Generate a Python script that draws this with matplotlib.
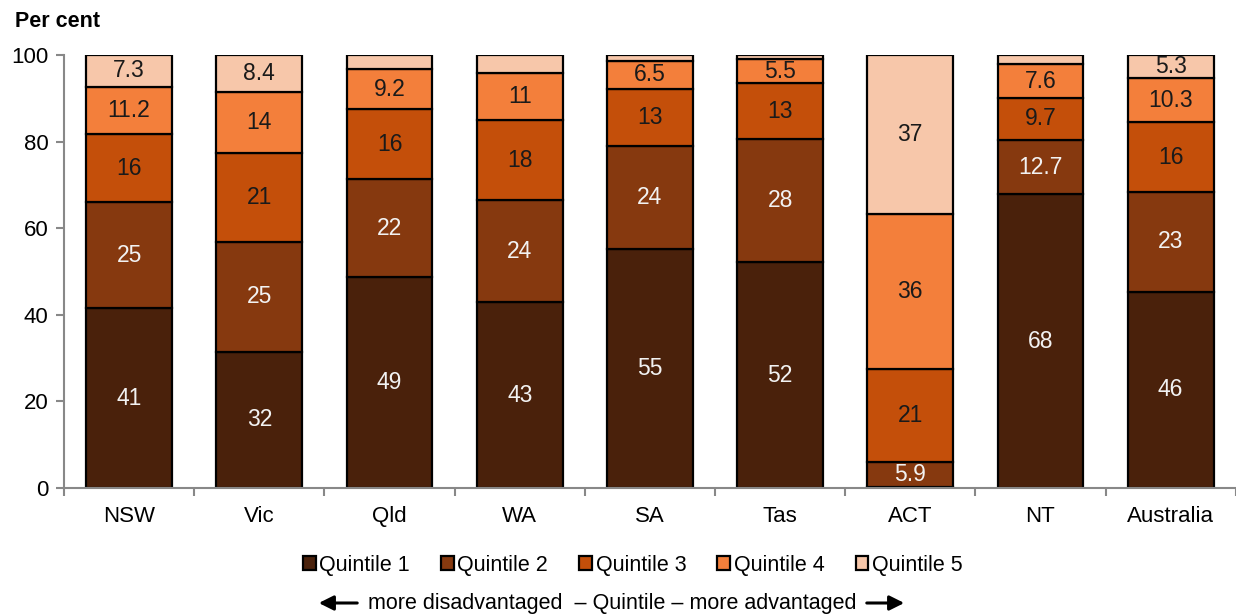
import matplotlib.pyplot as plt
import numpy as np

plt.rcParams['font.family'] = ['Liberation Sans', 'DejaVu Sans']

regions = ["NSW", "Vic", "Qld", "WA", "SA", "Tas", "ACT", "NT", "Australia"]

# segment heights (per cent)
q1 = [41.5, 31.5, 48.7, 42.9, 55.1, 52.1, 0.3, 67.8, 45.3]
q2 = [24.6, 25.4, 22.6, 23.6, 24.0, 28.5, 5.6, 12.6, 23.1]
q3 = [15.6, 20.5, 16.2, 18.5, 13.0, 12.9, 21.7, 9.7, 16.1]
q4 = [11.0, 14.1, 9.2, 10.8, 6.6, 5.5, 35.8, 7.8, 10.2]
q5 = [7.3, 8.5, 3.3, 4.2, 1.3, 1.0, 36.6, 2.1, 5.3]

# printed labels
lab1 = ["41", "32", "49", "43", "55", "52", "", "68", "46"]
lab2 = ["25", "25", "22", "24", "24", "28", "5.9", "12.7", "23"]
lab3 = ["16", "21", "16", "18", "13", "13", "21", "9.7", "16"]
lab4 = ["11.2", "14", "9.2", "11", "6.5", "5.5", "36", "7.6", "10.3"]
lab5 = ["7.3", "8.4", "", "", "", "", "37", "", "5.3"]

series = ["Quintile 1", "Quintile 2", "Quintile 3", "Quintile 4", "Quintile 5"]
colors = ['#4a210b', '#86390f', '#c44f0a', '#f37f3b', '#f7c7aa']
text_colors = ['#f2f2f2', '#f2f2f2', '#1a1a1a', '#1a1a1a', '#1a1a1a']

fs = 16

fig = plt.figure(figsize=(12.36, 6.15), dpi=100)
ax = fig.add_axes([0.0518, 0.2065, 0.948, 0.704])

x = np.arange(len(regions))
bottom = np.zeros(len(regions))
for vals, labs, col, tc, name in zip([q1, q2, q3, q4, q5], [lab1, lab2, lab3, lab4, lab5],
                                     colors, text_colors, series):
    vals = np.array(vals)
    ax.bar(x, vals, 0.66, bottom=bottom, color=col, edgecolor='black', linewidth=1.6, label=name)
    for xi, b, v, t in zip(x, bottom, vals, labs):
        if t:
            ax.text(xi, b + v / 2, t, ha='center', va='center', fontsize=fs + 0.5, color=tc)
    bottom += vals

ax.set_xlim(-0.5, len(regions) - 0.5)
ax.set_ylim(0, 100)
ax.set_yticks([0, 20, 40, 60, 80, 100])
ax.set_xticks(x)
ax.set_xticklabels(regions)
ax.set_xticks(np.arange(-0.5, len(regions), 1.0), minor=True)
ax.tick_params(axis='x', which='major', length=0, labelsize=fs, pad=13)
ax.tick_params(axis='x', which='minor', length=6, width=1.5, color='#888888')
ax.tick_params(axis='y', length=6, width=1.5, color='#888888', labelsize=fs, pad=5)
for s in ['top', 'right']:
    ax.spines[s].set_visible(False)
for s in ['left', 'bottom']:
    ax.spines[s].set_color('#888888')
    ax.spines[s].set_linewidth(1.5)

fig.text(0.012, 0.965, "Per cent", fontsize=15.5, fontweight='bold', ha='left', va='center')

leg = fig.legend(loc='center', bbox_to_anchor=(0.512, 0.081), ncol=5, frameon=False,
                 fontsize=15.5, handlelength=0.6, handleheight=0.6, handletextpad=0.15,
                 columnspacing=1.45)
for h in leg.legend_handles:
    h.set_linewidth(1.6)

fig.text(0.4953, 0.019, "more disadvantaged  \u2013 Quintile \u2013 more advantaged",
         fontsize=15.5, ha='center', va='center')
arrow = dict(arrowstyle='-|>', lw=2.2, color='black', mutation_scale=22)
ax.annotate('', xy=(316, 12), xytext=(360, 12), xycoords='figure pixels',
            textcoords='figure pixels', arrowprops=arrow, annotation_clip=False)
ax.annotate('', xy=(907, 12), xytext=(864, 12), xycoords='figure pixels',
            textcoords='figure pixels', arrowprops=arrow, annotation_clip=False)

fig.savefig('out.png', dpi=100)
